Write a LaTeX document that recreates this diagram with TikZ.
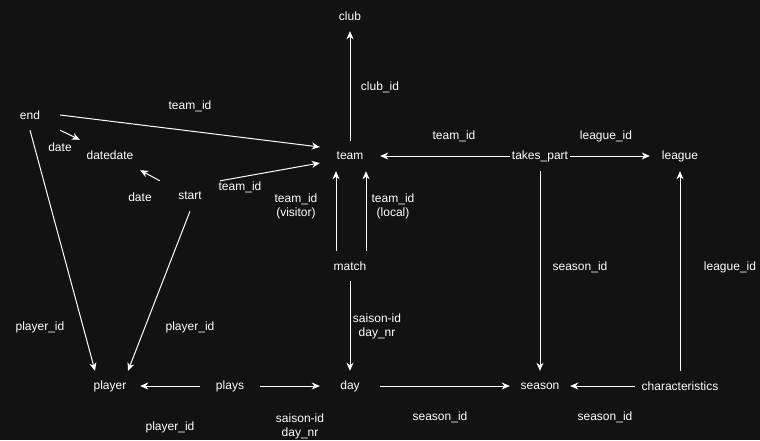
\documentclass[tikz,border=0pt]{standalone}
\usepackage{fontspec}
\setmainfont{Liberation Sans}
\usetikzlibrary{arrows.meta}
\definecolor{bg}{HTML}{121212}
\begin{document}
\begin{tikzpicture}[x=1pt,y=-1pt,
  box/.style={minimum width=60pt, minimum height=30pt, inner sep=0pt, text=white, font=\fontsize{12}{14}\selectfont},
  lbl/.style={text=white, inner sep=0pt, align=center, yshift=-1.5pt, font=\fontsize{12}{14}\selectfont},
  conn/.style={draw=white, line width=1pt, -{Stealth[length=8pt,width=7pt,inset=2.5pt]}}]
\fill[bg] (0,0) rectangle (760,440);
\useasboundingbox (0,0) rectangle (760,440);
% entity nodes
\node[box] (club) at (350,16) {club};
\node[box] (team) at (350,156) {team};
\node[box] (end) at (30,115) {end};
\node[box] (datedate) at (110,155) {datedate};
\node[box] (start) at (190,196) {start};
\node[box] (match) at (350,266) {match};
\node[box] (player) at (110,386) {player};
\node[box] (plays) at (230,386) {plays};
\node[box] (day) at (350,386) {day};
\node[box] (season) at (540,386) {season};
\node[box, minimum width=90pt] (characteristics) at (680,386) {characteristics};
\node[box] (takes) at (540,156) {takes\_part};
\node[box] (league) at (680,156) {league};
% labels
\node[lbl] (l1) at (380,86) {club\_id};
\node[lbl] (l2) at (190,105) {team\_id};
\node[lbl] (l3) at (60,146) {date};
\node[lbl] (l4) at (140,196) {date};
\node[lbl] (l5) at (240,186) {team\_id};
\node[lbl] (l6) at (296,205) {team\_id\\(visitor)};
\node[lbl] (l7) at (393,205) {team\_id\\(local)};
\node[lbl] (l8) at (454,135) {team\_id};
\node[lbl] (l9) at (606,135) {league\_id};
\node[lbl] (l10) at (580,266) {season\_id};
\node[lbl] (l11) at (730,266) {league\_id};
\node[lbl] (l12) at (377,325) {saison-id\\day\_nr};
\node[lbl] (l13) at (40,326) {player\_id};
\node[lbl] (l14) at (190,326) {player\_id};
\node[lbl] (l15) at (170,426) {player\_id};
\node[lbl] (l16) at (300,425) {saison-id\\day\_nr};
\node[lbl] (l17) at (440,416) {season\_id};
\node[lbl] (l18) at (605,416) {season\_id};
% connectors
\draw[conn] (team.north) -- (club.south);
\draw[conn] (end.east) -- ([yshift=9pt]team.west);
\draw[conn] (start.north east) -- ([yshift=-7pt]team.west);
\draw[conn] (end.south east) -- (datedate.north west);
\draw[conn] (start.north west) -- (datedate.south east);
\draw[conn] (end.south) -- ([xshift=-15pt]player.north);
\draw[conn] (start.south) -- ([xshift=18pt]player.north);
\draw[conn] ([xshift=-14pt]match.north) -- ([xshift=-14pt]team.south);
\draw[conn] ([xshift=16pt]match.north) -- ([xshift=16pt]team.south);
\draw[conn] (match.south) -- (day.north);
\draw[conn] (plays.west) -- (player.east);
\draw[conn] (plays.east) -- (day.west);
\draw[conn] (day.east) -- (season.west);
\draw[conn] (characteristics.west) -- (season.east);
\draw[conn] (characteristics.north) -- (league.south);
\draw[conn] (takes.west) -- (team.east);
\draw[conn] (takes.east) -- (league.west);
\draw[conn] (takes.south) -- (season.north);
\end{tikzpicture}
\end{document}
